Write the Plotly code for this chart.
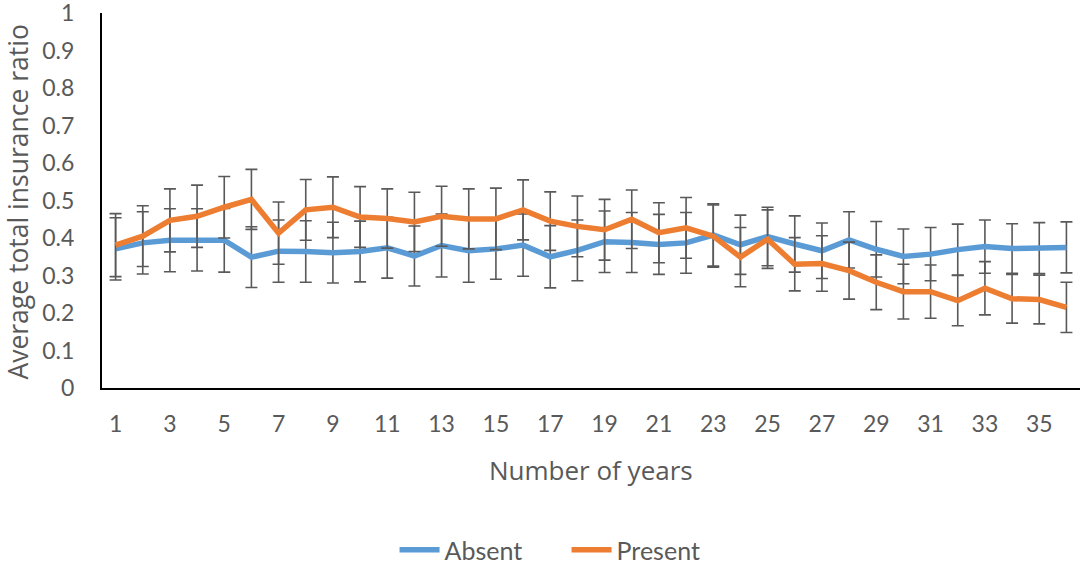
import plotly.graph_objects as go

years = list(range(1, 37))

absent = [0.371, 0.387, 0.394, 0.395, 0.394, 0.349, 0.365, 0.364, 0.361, 0.364,
          0.374, 0.352, 0.380, 0.366, 0.371, 0.381, 0.350, 0.367, 0.390, 0.388,
          0.383, 0.387, 0.408, 0.382, 0.404, 0.384, 0.366, 0.395, 0.370, 0.351,
          0.357, 0.369, 0.377, 0.372, 0.373, 0.375]
absent_err = [0.083, 0.083, 0.084, 0.083, 0.085, 0.081, 0.083, 0.082, 0.081, 0.081,
              0.081, 0.080, 0.084, 0.084, 0.081, 0.083, 0.083, 0.081, 0.082, 0.080,
              0.080, 0.081, 0.083, 0.079, 0.078, 0.075, 0.074, 0.075, 0.074, 0.073,
              0.071, 0.068, 0.071, 0.066, 0.068, 0.068]

present = [0.381, 0.405, 0.447, 0.458, 0.482, 0.503, 0.413, 0.475, 0.482, 0.456,
           0.452, 0.443, 0.458, 0.451, 0.451, 0.475, 0.445, 0.431, 0.422, 0.450,
           0.414, 0.427, 0.405, 0.349, 0.397, 0.330, 0.332, 0.313, 0.282, 0.257,
           0.257, 0.233, 0.266, 0.238, 0.236, 0.215]
present_err = [0.084, 0.081, 0.084, 0.083, 0.082, 0.080, 0.083, 0.081, 0.081, 0.081,
               0.079, 0.079, 0.080, 0.080, 0.082, 0.080, 0.078, 0.081, 0.081, 0.078,
               0.080, 0.081, 0.083, 0.079, 0.078, 0.071, 0.074, 0.076, 0.073, 0.073,
               0.071, 0.067, 0.071, 0.065, 0.065, 0.067]

x_ticks = list(range(1, 37, 2))
y_ticks = [0, 0.1, 0.2, 0.3, 0.4, 0.5, 0.6, 0.7, 0.8, 0.9, 1]
y_ticktext = ["0", "0.1", "0.2", "0.3", "0.4", "0.5", "0.6", "0.7", "0.8", "0.9", "1"]

x_title = "Number of years"
y_title = "Average total insurance ratio"

FONT = "Lato, Open Sans, sans-serif"
TITLE_FONT = "Open Sans, Lato, sans-serif"
GRAY = "#595959"

fig = go.Figure()
fig.add_trace(go.Scatter(
    x=years, y=absent, name="Absent", mode="lines",
    line=dict(color="#5B9BD5", width=5.5),
    error_y=dict(type="data", array=absent_err, visible=True,
                 color=GRAY, thickness=1.6, width=6),
))
fig.add_trace(go.Scatter(
    x=years, y=present, name="Present", mode="lines",
    line=dict(color="#ED7D31", width=5.5),
    error_y=dict(type="data", array=present_err, visible=True,
                 color=GRAY, thickness=1.6, width=6),
))

fig.update_layout(
    width=1084, height=563,
    margin=dict(l=102, r=4, t=13, b=175, autoexpand=False),
    paper_bgcolor="white", plot_bgcolor="white",
    font=dict(family=FONT, color=GRAY, size=23),
    showlegend=True,
    legend=dict(orientation="h", x=0.475, xanchor="center", y=-0.432, yanchor="middle",
                font=dict(size=25, color=GRAY, family=FONT), itemwidth=40,
                entrywidth=117, entrywidthmode="pixels", tracegroupgap=0),
    annotations=[
        dict(text=x_title, xref="paper", yref="paper", x=0.5, y=-0.219,
             xanchor="center", yanchor="middle", showarrow=False,
             font=dict(size=26, color=GRAY, family=TITLE_FONT)),
        dict(text=y_title, xref="paper", yref="paper", x=-0.0859, y=0.497,
             xanchor="center", yanchor="middle", showarrow=False, textangle=-90,
             font=dict(size=26.5, color=GRAY, family=TITLE_FONT)),
    ],
)
fig.update_xaxes(
    range=[0.5, 36.5], tickmode="array", tickvals=x_ticks,
    ticktext=[str(v) for v in x_ticks],
    showgrid=False, zeroline=False, automargin=False,
    showline=True, linecolor="black", linewidth=2,
    ticks="", ticklabelstandoff=14, ticklabeloverflow="allow",
    tickfont=dict(size=23, color=GRAY),
)
fig.update_yaxes(
    range=[0, 1], tickmode="array", tickvals=y_ticks, ticktext=y_ticktext,
    showgrid=False, zeroline=False, automargin=False,
    showline=True, linecolor="black", linewidth=2,
    ticks="", ticklabelstandoff=21, ticklabeloverflow="allow",
    tickfont=dict(size=23, color=GRAY),
)

fig.write_html(
    "out.html",
    config={"displayModeBar": False},
    post_script="document.body.style.margin='0';document.body.style.overflow='hidden';",
)
